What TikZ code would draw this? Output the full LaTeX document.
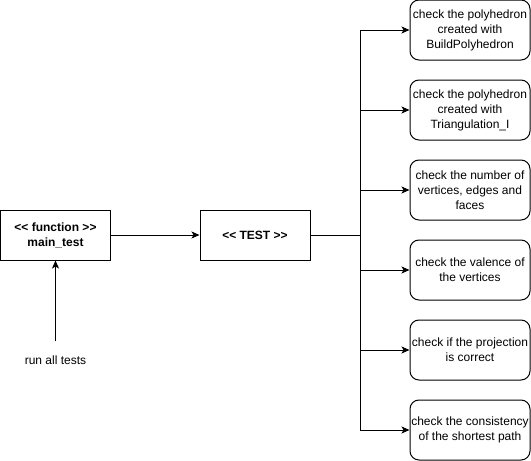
\documentclass[tikz,border=0pt]{standalone}
\usepackage{fontspec}
\setmainfont{Liberation Sans}
\usetikzlibrary{arrows.meta,positioning}

\begin{document}
\begin{tikzpicture}[x=1pt,y=-1pt,
  every node/.style={font=\fontsize{12}{15}\selectfont,align=center,inner sep=1pt},
  box/.style={draw,line width=1pt,minimum width=110pt,minimum height=50pt},
  check/.style={draw,line width=1pt,rounded corners=9pt,
    minimum width=120pt,minimum height=60pt},
  link/.style={line width=1pt,-{Stealth[length=8pt,width=7pt,inset=2pt]}}]

  \useasboundingbox (0,0) rectangle (531,461);

  % function and test blocks
  \node[box] (main) at (55.5,235) {\textbf{{<}{<} function {>}{>}}\\\textbf{main\_test}};
  \node[box] (test) at (255,235) {\textbf{{<}{<} TEST {>}{>}}};
  \node (run) at (55.5,360) {run all tests};

  \draw[link] ([yshift=13pt]run.north) -- (main.south);
  \draw[link] (main) -- (test);

  % the checks
  \foreach \i/\txt in {1/{check the polyhedron\\created with\\BuildPolyhedron},
                       2/{check the polyhedron\\created with\\Triangulation\_I},
                       3/{check the number of\\vertices, edges and\\faces},
                       4/{check the valence of\\the vertices},
                       5/{check if the projection\\is correct},
                       6/{check the consistency\\of the shortest path}} {
    \node[check] (chk\i) at (470,{30+80*(\i-1)}) {\txt};
  }

  % fork from the test block
  \coordinate (fork) at (360,235);
  \draw[line width=1pt] (test.east) -- (fork);
  \draw[line width=1pt] (fork |- chk1) -- (fork |- chk6);
  \foreach \i in {1,...,6}
    \draw[link] (fork |- chk\i) -- (chk\i.west);
\end{tikzpicture}
\end{document}
